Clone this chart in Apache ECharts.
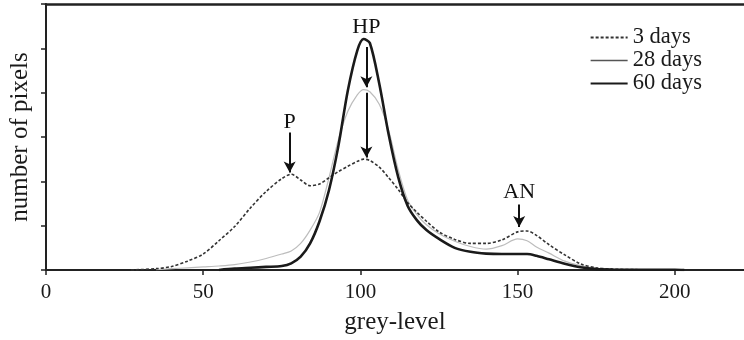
<!DOCTYPE html>
<html>
<head>
<meta charset="utf-8">
<script src="https://cdn.jsdelivr.net/npm/echarts@6/dist/echarts.min.js"></script>
<style>
  html, body { margin: 0; padding: 0; background: #fff; }
  #chart { width: 744px; height: 340px; }
</style>
</head>
<body>
<div id="chart"></div>
<script>
// Grey-level histogram of three curing ages
const greyLevel = [27, 35, 40, 45, 50, 55, 60, 65, 70, 75, 78, 81, 84, 87, 90, 93, 96, 99, 101, 103, 106, 109, 112, 115, 118, 121, 125, 130, 135, 140, 145, 150, 153, 156, 160, 165, 170, 175, 180, 190, 200, 203];

const days3 = [0, 0.03, 0.08, 0.2, 0.36, 0.66, 0.98, 1.4, 1.77, 2.06, 2.16, 2.03, 1.9, 1.94, 2.08, 2.22, 2.34, 2.45, 2.5, 2.47, 2.32, 2.08, 1.82, 1.52, 1.3, 1.1, 0.86, 0.69, 0.6, 0.6, 0.68, 0.86, 0.88, 0.78, 0.57, 0.34, 0.14, 0.05, 0.02, 0.005, null, null];

const days28 = [null, 0.01, 0.03, 0.05, 0.07, 0.09, 0.12, 0.18, 0.26, 0.36, 0.43, 0.6, 0.9, 1.3, 2.08, 2.94, 3.58, 3.95, 4.07, 4.02, 3.74, 3.15, 2.27, 1.58, 1.25, 1.02, 0.82, 0.65, 0.53, 0.47, 0.55, 0.7, 0.66, 0.52, 0.38, 0.2, 0.1, 0.04, 0.02, 0.005, 0, null];

const days60 = [null, null, null, null, null, 0, 0.03, 0.05, 0.07, 0.09, 0.15, 0.3, 0.6, 1.1, 1.8, 2.8, 4.05, 4.95, 5.21, 5.12, 4.2, 3.05, 2.1, 1.45, 1.12, 0.9, 0.7, 0.5, 0.41, 0.37, 0.36, 0.36, 0.36, 0.32, 0.24, 0.14, 0.06, 0.02, 0.01, 0.005, 0.005, 0];

const seriesNames = ['3 days', '28 days', '60 days'];
const xTicks = [0, 50, 100, 150, 200];

// Peak annotations: label, grey-level, label height, arrow segments
const peakLabels = [
  { name: 'P', x: 77.5, y: 3.33 },
  { name: 'HP', x: 101.9, y: 5.48 },
  { name: 'AN', x: 150.5, y: 1.75 }
];
const peakArrows = [
  [77.5, 3.1, 2.2],
  [101.9, 5.03, 4.12],
  [101.9, 4.0, 2.54],
  [150.5, 1.48, 0.97]
];

const serif = '"Liberation Serif", "DejaVu Serif", serif';
const pairs = (vals) => greyLevel.map((g, i) => [g, vals[i]]);

const chart = echarts.init(document.getElementById('chart'));
chart.setOption({
  animation: false,
  grid: { left: 44, right: 0, top: 4, bottom: 69 },
  legend: {
    orient: 'vertical',
    right: 37,
    top: 21,
    itemWidth: 37,
    itemHeight: 12,
    itemGap: 0,
    itemStyle: { opacity: 0 },
    textStyle: { fontFamily: serif, fontSize: 22.5, lineHeight: 22, color: '#1a1a1a' },
    data: [
      { name: seriesNames[0] },
      { name: seriesNames[1], lineStyle: { color: '#555', width: 1.5 } },
      { name: seriesNames[2] }
    ]
  },
  xAxis: [{
    type: 'value',
    min: 0,
    max: 222,
    interval: 50,
    name: 'grey-level',
    nameLocation: 'middle',
    nameGap: 40,
    nameTextStyle: { fontFamily: serif, fontSize: 25, color: '#1a1a1a' },
    axisLine: { show: true, onZero: false, lineStyle: { color: '#222', width: 2 } },
    axisTick: { show: true, inside: false, length: 5, lineStyle: { color: '#222', width: 1.5 },
      customValues: xTicks },
    axisLabel: { fontFamily: serif, fontSize: 21, color: '#1a1a1a', margin: 12,
      customValues: xTicks },
    splitLine: { show: false }
  }, {
    type: 'value',
    position: 'top',
    min: 0,
    max: 222,
    axisLine: { show: true, onZero: false, lineStyle: { color: '#222', width: 2.5 } },
    axisTick: { show: false },
    axisLabel: { show: false },
    splitLine: { show: false }
  }],
  yAxis: {
    type: 'value',
    min: 0,
    max: 6,
    interval: 1,
    name: 'number of pixels',
    nameLocation: 'middle',
    nameGap: 13,
    nameTextStyle: { fontFamily: serif, fontSize: 25, color: '#1a1a1a' },
    axisLine: { show: true, onZero: false, lineStyle: { color: '#222', width: 2 } },
    axisTick: { show: true, inside: false, length: 5, lineStyle: { color: '#222', width: 1.5 } },
    axisLabel: { show: false },
    splitLine: { show: false }
  },
  series: [
    {
      name: seriesNames[0],
      type: 'line',
      data: pairs(days3),
      smooth: 0.3,
      symbol: 'none',
      lineStyle: { color: '#333', width: 1.6, type: [3, 2] },
      itemStyle: { color: '#333' },
      z: 3
    },
    {
      name: seriesNames[1],
      type: 'line',
      data: pairs(days28),
      smooth: 0.3,
      symbol: 'none',
      lineStyle: { color: '#bdbdbd', width: 1.2 },
      itemStyle: { color: '#bdbdbd' },
      z: 2
    },
    {
      name: seriesNames[2],
      type: 'line',
      data: pairs(days60),
      smooth: 0.3,
      symbol: 'none',
      lineStyle: { color: '#1a1a1a', width: 2.6 },
      itemStyle: { color: '#1a1a1a' },
      z: 4,
      markLine: {
        silent: true,
        symbol: ['none', 'arrow'],
        symbolSize: [9, 11],
        lineStyle: { color: '#111', width: 2, type: 'solid' },
        label: { show: false },
        data: peakArrows.map(a => [{ coord: [a[0], a[1]] }, { coord: [a[0], a[2]] }])
      },
      markPoint: {
        silent: true,
        symbol: 'circle',
        symbolSize: 1,
        itemStyle: { color: 'rgba(0,0,0,0)' },
        label: { show: true, position: 'inside', formatter: '{b}',
          fontFamily: serif, fontSize: 22, color: '#111' },
        data: peakLabels.map(p => ({ name: p.name, coord: [p.x, p.y] }))
      }
    }
  ]
});
</script>
</body>
</html>
